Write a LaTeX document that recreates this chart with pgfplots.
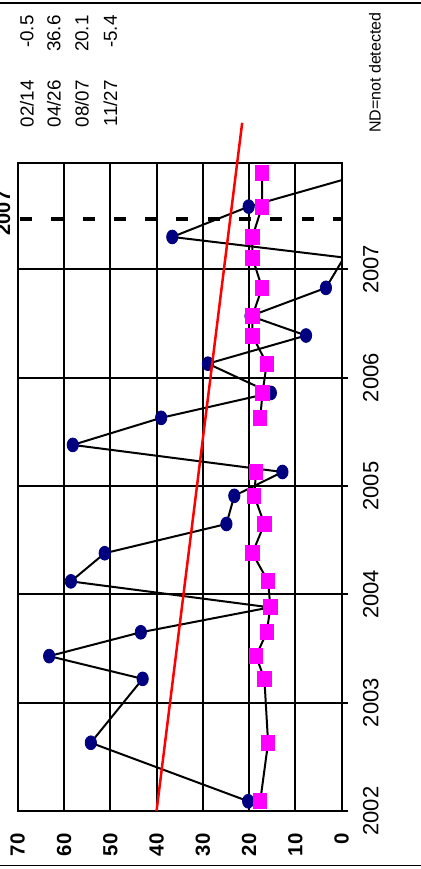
\documentclass[border=0pt]{standalone}
\usepackage{fontspec}
\setmainfont{Liberation Sans}
\usepackage{pgfplots}
\pgfplotsset{compat=1.18}
\usepackage{pgfplotstable}

\definecolor{navyblue}{HTML}{000080}
\definecolor{pinkish}{HTML}{FF00FF}

% x = measured value, y = sampling date (decimal year)
\pgfplotstableread{
val year
20.2 2002.09
54.2 2002.63
43.0 2003.22
63.2 2003.43
43.4 2003.65
15.5 2003.88
58.5 2004.12
51.2 2004.38
24.9 2004.65
23.2 2004.91
12.8 2005.13
58.1 2005.38
39.0 2005.63
15.3 2005.86
28.9 2006.13
7.7 2006.39
19.7 2006.57
3.4 2006.83
-0.5 2007.11
36.6 2007.30
20.1 2007.58
-5.4 2007.89
}\navydata

\pgfplotstableread{
val year
17.6 2002.09
15.9 2002.63
16.7 2003.22
18.5 2003.43
16.2 2003.65
15.4 2003.88
15.9 2004.12
19.3 2004.38
16.7 2004.65
18.9 2004.91
18.5 2005.13
nan 2005.38
17.6 2005.63
17.1 2005.86
16.2 2006.13
19.3 2006.39
19.3 2006.57
17.2 2006.83
19.3 2007.11
19.3 2007.30
17.2 2007.58
17.2 2007.89
}\pinkdata

\pgfplotsset{
  boxaxis/.style={
    at={(8.85pt,29pt)}, anchor=south west,
    scale only axis, width=162pt, height=323.85pt,
    xmin=0, xmax=70, x dir=reverse,
    ymin=2002, ymax=2007.98,
  }
}

\begin{document}
\begin{tikzpicture}
\path[use as bounding box] (0,0) rectangle (210.5pt,434.5pt);

\begin{axis}[
  boxaxis,
  xtick={0,10,...,70},
  xticklabels={0,10,20,30,40,50,60,70},
  ytick={2002,2003,2004,2005,2006,2007},
  yticklabels={2002,2003,2004,2005,2006,2007},
  grid=major,
  grid style={black, line width=1pt},
  axis line style={black, line width=1pt},
  major x tick style={draw=none},
  ytick pos=right, yticklabel pos=right,
  tick align=outside, major tick length=3pt,
  major y tick style={black, line width=1pt},
  xticklabel style={rotate=90, anchor=east, inner sep=0pt,
    font=\bfseries\fontsize{10.2}{11}\selectfont},
  xticklabel shift=8pt,
  yticklabel style={rotate=90, anchor=north, inner sep=0pt,
    font=\fontsize{11}{12}\selectfont},
  yticklabel shift=7.5pt,
  unbounded coords=jump,
]
  % dashed marker line
  \addplot[black, line width=1.6pt, dash pattern=on 6pt off 9.65pt, dash phase=14.5pt]
    coordinates {(70,2007.465) (0,2007.465)};

  \addplot[black, line width=1pt] table[x=val, y=year] {\navydata};
  \addplot[only marks, mark=*, mark size=3.45pt,
    mark options={xscale=0.82, draw=navyblue, fill=navyblue},
    restrict x to domain=0:70] table[x=val, y=year] {\navydata};

  \addplot[black, line width=1pt, mark=square*, mark size=3.5pt,
    mark options={xscale=0.88, draw=pinkish, fill=pinkish, solid}]
    table[x=val, y=year] {\pinkdata};
\end{axis}

% linear trend, runs past the top of the box
\begin{axis}[boxaxis, hide axis, clip=false]
  \addplot[red, line width=1.25pt] coordinates {(40.0,2002) (21.5,2008.354)};
\end{axis}

\begin{scope}[shift={(0,434.5pt)}, x=0.5pt, y=-0.5pt]
  \draw[line width=1pt] (0,3) -- (421,3);
  \draw[line width=0.8pt] (0,865.5) -- (421,865.5);
  \node[rotate=90, anchor=base, inner sep=0pt,
    font=\bfseries\fontsize{10}{11}\selectfont] at (10,213) {2007};
  \begin{scope}[every node/.style={rotate=90, anchor=east, inner sep=0pt,
      font=\fontsize{9.4}{10}\selectfont}]
    \node at (27,80) {02/14};   \node at (27,15) {-0.5};
    \node at (54,80) {04/26};   \node at (54,15) {36.6};
    \node at (82,80) {08/07};   \node at (82,15) {20.1};
    \node at (110.5,80) {11/27}; \node at (110.5,15) {-5.4};
  \end{scope}
  \node[rotate=90, anchor=east, inner sep=0pt, font=\fontsize{8}{9}\selectfont]
    at (375,12) {ND=not detected};
\end{scope}
\end{tikzpicture}
\end{document}
